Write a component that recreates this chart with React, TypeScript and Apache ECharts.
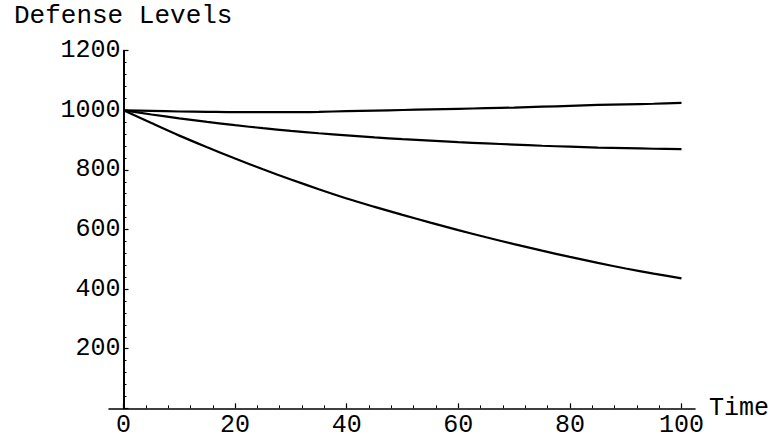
import React, { useEffect, useRef } from "react";
import * as echarts from "echarts";

const timePoints = [0, 5, 10, 15, 20, 25, 30, 35, 40, 45, 50, 55, 60, 65, 70, 75, 80, 85, 90, 95, 100];
const upperLevels = [1000, 998, 996, 995, 994, 994, 994, 995, 997, 999, 1001, 1003, 1005, 1007, 1009, 1012, 1015, 1018, 1020, 1022, 1025];
const middleLevels = [1000, 986, 973, 961, 950, 940, 931, 923, 916, 909, 903, 898, 893, 889, 885, 881, 878, 875, 873, 871, 870];
const lowerLevels = [1000, 957, 915, 876, 838, 802, 768, 735, 704, 676, 649, 623, 598, 574, 551, 529, 508, 488, 469, 452, 436];

const yTicks = [0, 200, 400, 600, 800, 1000, 1200];
const xTicks = [0, 20, 40, 60, 80, 100];

const FONT = "'Liberation Mono', 'DejaVu Sans Mono', monospace";

export default function App() {
  const ref = useRef<HTMLDivElement>(null);
  useEffect(() => {
    if (!ref.current) return;
    const chart = echarts.init(ref.current, null, { renderer: "svg" });
    const mk = (vals: number[]) => timePoints.map((t, i) => [t, vals[i]]);
    const lineSeries = (name: string, vals: number[]) => ({
      name,
      type: "line",
      xAxisIndex: 0,
      yAxisIndex: 0,
      data: mk(vals),
      showSymbol: false,
      smooth: 0.3,
      lineStyle: { color: "#000", width: 2.2 },
      silent: true,
    });
    chart.setOption({
      animation: false,
      backgroundColor: "#fff",
      title: {
        text: "Defense Levels",
        left: 14,
        top: 3,
        padding: 0,
        textStyle: { fontFamily: FONT, fontSize: 26, fontWeight: "normal", color: "#000" },
      },
      grid: [
        { left: 123.5, right: 92.5, top: 50.7, bottom: 34.7 },
        { left: 109, right: 79, top: 50.7, bottom: 34.7 },
      ],
      xAxis: [
        {
          type: "value",
          gridIndex: 0,
          min: xTicks[0],
          max: xTicks[xTicks.length - 1],
          interval: 20,
          axisLine: { show: false },
          axisTick: { show: true, inside: true, length: 5, lineStyle: { color: "#000", width: 1.2 } },
          minorTick: { show: true, splitNumber: 5, length: 3, lineStyle: { color: "#000", width: 1 } },
          splitLine: { show: false },
          axisLabel: { color: "#000", fontFamily: FONT, fontSize: 25, margin: 5 },
        },
        {
          type: "value",
          gridIndex: 1,
          min: -2.5,
          max: 102.5,
          axisLine: { show: true, onZero: false, lineStyle: { color: "#000", width: 1.6 } },
          axisTick: { show: false },
          axisLabel: { show: false },
          splitLine: { show: false },
          name: "Time",
          nameLocation: "end",
          nameGap: 14,
          nameTextStyle: { color: "#000", fontFamily: FONT, fontSize: 25, verticalAlign: "middle", padding: [6, 0, 0, 0] },
        },
      ],
      yAxis: [
        {
          type: "value",
          gridIndex: 0,
          min: yTicks[0],
          max: yTicks[yTicks.length - 1],
          interval: 200,
          axisLine: { show: true, onZero: false, lineStyle: { color: "#000", width: 2 } },
          axisTick: { show: true, inside: true, length: 5, lineStyle: { color: "#000", width: 1.2 } },
          minorTick: { show: true, splitNumber: 5, length: 3, lineStyle: { color: "#000", width: 1 } },
          splitLine: { show: false },
          axisLabel: {
            color: "#000",
            fontFamily: FONT,
            fontSize: 25,
            margin: 3,
            formatter: (v: number) => (v === 0 ? "" : String(v)),
          },
        },
        { type: "value", gridIndex: 1, show: false, min: 0, max: 1200 },
      ],
      series: [
        lineSeries("upper", upperLevels),
        lineSeries("middle", middleLevels),
        lineSeries("lower", lowerLevels),
      ],
    });
    return () => chart.dispose();
  }, []);
  return (
    <div
      ref={ref}
      style={{ position: "fixed", left: 0, top: 0, width: 774, height: 443, background: "#fff" }}
    />
  );
}
